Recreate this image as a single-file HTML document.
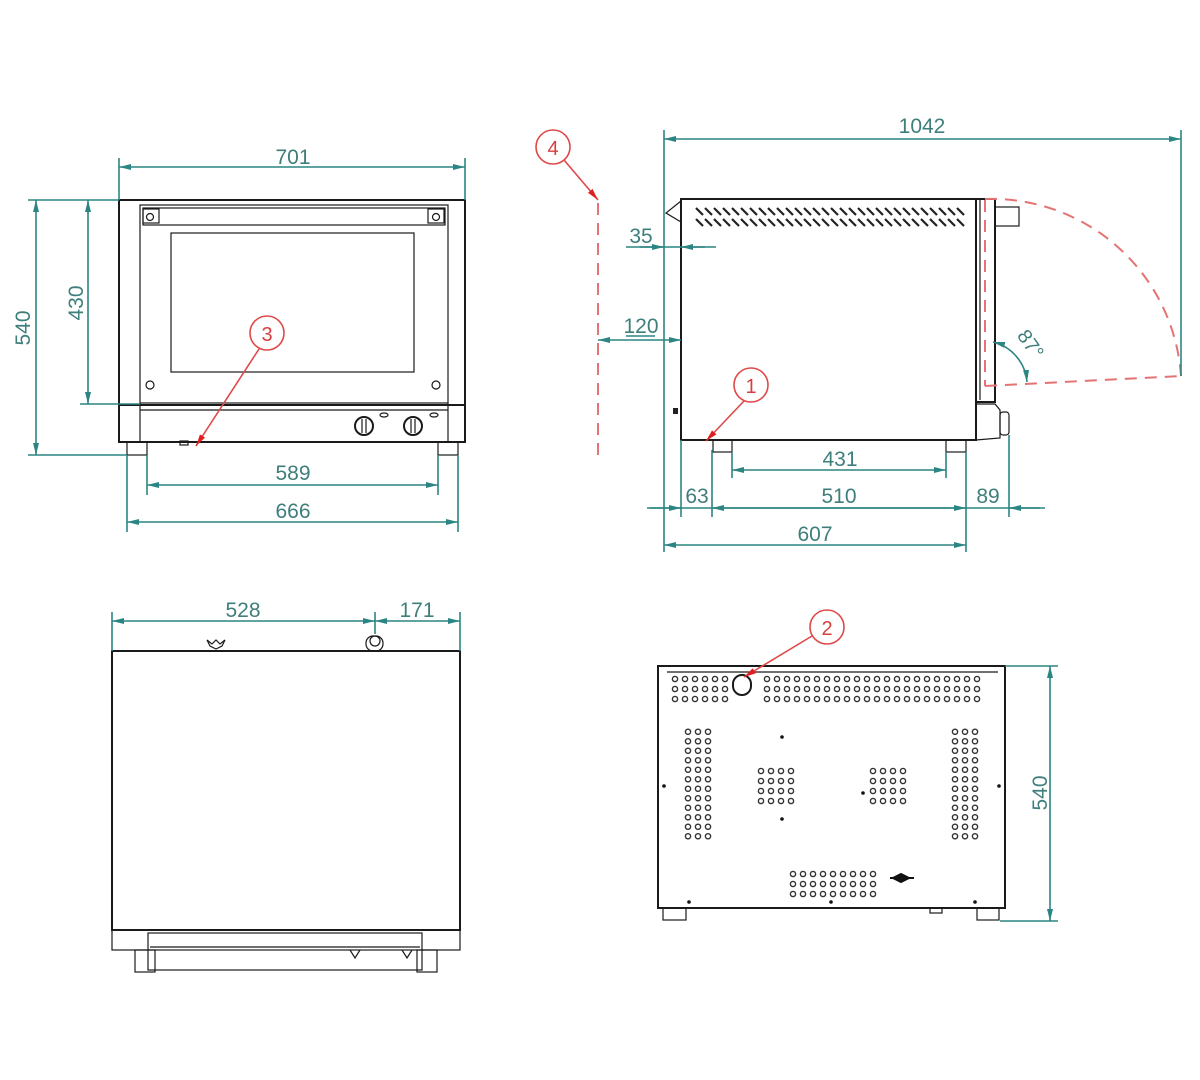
<!DOCTYPE html>
<html><head><meta charset="utf-8"><style>
html,body{margin:0;padding:0;background:#fff}
svg{display:block}
text{font-family:"Liberation Sans",sans-serif;font-size:21px;fill:#3e7e7b}
.t{stroke:#2b8582;stroke-width:1.6;fill:none}
.k{stroke:#1a1a1a;stroke-width:2;fill:none}
.kt{stroke:#1a1a1a;stroke-width:1.2;fill:none}
.r{stroke:#e04848;stroke-width:1.6;fill:none}
.rd{stroke:#e57373;stroke-width:2;fill:none;stroke-dasharray:12 8}
.rt{fill:#d84040;font-size:20px}
</style></head><body>
<svg width="1200" height="1080" viewBox="0 0 1200 1080" xmlns="http://www.w3.org/2000/svg">
<defs>
<marker id="a" viewBox="0 0 12 6" refX="12" refY="3" markerWidth="12" markerHeight="6" orient="auto-start-reverse" markerUnits="userSpaceOnUse"><path d="M0,0 L12,3 L0,6z" fill="#2b8582"/></marker>
<marker id="ar" viewBox="0 0 12 6" refX="12" refY="3" markerWidth="12" markerHeight="7" orient="auto" markerUnits="userSpaceOnUse"><path d="M0,0 L12,3 L0,6z" fill="#e02020"/></marker>
<pattern id="h1" x="670" y="674" width="10" height="10" patternUnits="userSpaceOnUse"><circle cx="5" cy="5" r="2.6" fill="none" stroke="#333" stroke-width="1.4"/></pattern>
<pattern id="h2" x="762" y="674" width="10" height="10" patternUnits="userSpaceOnUse"><circle cx="5" cy="5" r="2.6" fill="none" stroke="#333" stroke-width="1.4"/></pattern>
<pattern id="h3" x="683" y="727" width="10" height="9.5" patternUnits="userSpaceOnUse"><circle cx="5" cy="4.75" r="2.6" fill="none" stroke="#333" stroke-width="1.4"/></pattern>
<pattern id="h4" x="950" y="727" width="10" height="9.5" patternUnits="userSpaceOnUse"><circle cx="5" cy="4.75" r="2.6" fill="none" stroke="#333" stroke-width="1.4"/></pattern>
<pattern id="h5" x="756" y="766" width="10" height="10" patternUnits="userSpaceOnUse"><circle cx="5" cy="5" r="2.6" fill="none" stroke="#333" stroke-width="1.4"/></pattern>
<pattern id="h6" x="868" y="766" width="10" height="10" patternUnits="userSpaceOnUse"><circle cx="5" cy="5" r="2.6" fill="none" stroke="#333" stroke-width="1.4"/></pattern>
<pattern id="h7" x="788" y="869" width="10" height="10" patternUnits="userSpaceOnUse"><circle cx="5" cy="5" r="2.6" fill="none" stroke="#333" stroke-width="1.4"/></pattern>
<pattern id="sl" x="695" y="207" width="9" height="11" patternUnits="userSpaceOnUse"><line x1="1" y1="1" x2="8" y2="8" stroke="#222" stroke-width="2.2"/></pattern>
</defs>

<!-- FRONT VIEW -->
<rect x="119" y="200" width="346" height="242" class="k"/>
<rect x="140" y="205" width="308" height="198" class="kt"/>
<rect x="143" y="208" width="302" height="17" class="kt"/>
<rect x="143" y="209" width="16" height="14" class="kt"/><circle cx="150" cy="217" r="3.5" class="kt"/>
<rect x="428" y="209" width="16" height="14" class="kt"/><circle cx="436" cy="217" r="3.5" class="kt"/>
<rect x="171" y="233" width="243" height="139" class="kt"/>
<circle cx="150" cy="385" r="4" class="kt"/><circle cx="436" cy="385" r="4" class="kt"/>
<line x1="119" y1="405" x2="465" y2="405" class="k"/>
<line x1="140" y1="410" x2="448" y2="410" class="kt"/>
<line x1="140" y1="403" x2="140" y2="442" class="kt"/><line x1="448" y1="403" x2="448" y2="442" class="kt"/>
<circle cx="364" cy="426" r="9" class="k"/><line x1="362" y1="419" x2="362" y2="433" class="kt"/><line x1="366" y1="419" x2="366" y2="433" class="kt"/>
<circle cx="413" cy="426" r="9" class="k"/><line x1="411" y1="419" x2="411" y2="433" class="kt"/><line x1="415" y1="419" x2="415" y2="433" class="kt"/>
<ellipse cx="384" cy="415" rx="4" ry="2" class="kt"/><ellipse cx="434" cy="415" rx="4" ry="2" class="kt"/>
<rect x="127" y="442" width="20" height="13" class="kt"/><rect x="438" y="442" width="20" height="13" class="kt"/>
<rect x="180" y="441" width="8" height="4" class="kt"/>
<!-- front dims -->
<line x1="119" y1="158" x2="119" y2="200" class="t"/><line x1="465" y1="158" x2="465" y2="200" class="t"/>
<line x1="119" y1="167" x2="465" y2="167" class="t" marker-start="url(#a)" marker-end="url(#a)"/>
<text x="293" y="164" text-anchor="middle">701</text>
<line x1="28" y1="200" x2="119" y2="200" class="t"/><line x1="28" y1="455" x2="127" y2="455" class="t"/>
<line x1="80" y1="404" x2="140" y2="404" class="t"/>
<line x1="36" y1="200" x2="36" y2="455" class="t" marker-start="url(#a)" marker-end="url(#a)"/>
<line x1="88" y1="200" x2="88" y2="404" class="t" marker-start="url(#a)" marker-end="url(#a)"/>
<text transform="translate(30,328) rotate(-90)" text-anchor="middle">540</text>
<text transform="translate(83,303) rotate(-90)" text-anchor="middle">430</text>
<line x1="147" y1="455" x2="147" y2="495" class="t"/><line x1="438" y1="455" x2="438" y2="495" class="t"/>
<line x1="127" y1="455" x2="127" y2="532" class="t"/><line x1="458" y1="455" x2="458" y2="532" class="t"/>
<line x1="147" y1="485" x2="438" y2="485" class="t" marker-start="url(#a)" marker-end="url(#a)"/>
<text x="293" y="480" text-anchor="middle">589</text>
<line x1="127" y1="522" x2="458" y2="522" class="t" marker-start="url(#a)" marker-end="url(#a)"/>
<text x="293" y="518" text-anchor="middle">666</text>
<circle cx="267" cy="333" r="17" class="r"/><text x="267" y="341" text-anchor="middle" class="rt">3</text>
<line x1="259" y1="349" x2="196" y2="446" class="r" marker-end="url(#ar)"/>

<!-- SIDE VIEW -->
<rect x="681" y="199" width="295" height="241" class="k"/>
<path d="M681,201 L666,213 L681,222" class="kt"/>
<rect x="695" y="207" width="270" height="22" fill="url(#sl)"/>
<rect x="976" y="199" width="19" height="203" class="k"/>
<line x1="980" y1="200" x2="980" y2="400" class="kt"/>
<rect x="995" y="207" width="24" height="19" class="kt"/>
<path d="M976,404 L995,404 L1000,410 L1000,438 L976,440" class="kt"/>
<rect x="1000" y="412" width="9" height="23" rx="3" class="kt"/>
<rect x="713" y="440" width="19" height="12" class="kt"/><rect x="946" y="440" width="20" height="12" class="kt"/>
<path d="M673,408 l5,0 l0,6 l-5,0z" fill="#222"/>
<!-- door swing -->
<line x1="985" y1="200" x2="985" y2="386" class="rd"/>
<path d="M985,199 A190,190 0 0 1 1181,376" class="rd"/>
<line x1="985" y1="386" x2="1181" y2="376" class="rd"/>
<path d="M993,342 A45,45 0 0 1 1027,382" class="t" marker-start="url(#a)" marker-end="url(#a)"/>
<text transform="translate(1025,348) rotate(55)" text-anchor="middle" style="font-size:20px">87°</text>
<!-- side dims -->
<line x1="664" y1="130" x2="664" y2="552" class="t"/><line x1="1181" y1="130" x2="1181" y2="376" class="t"/>
<line x1="664" y1="139" x2="1181" y2="139" class="t" marker-start="url(#a)" marker-end="url(#a)"/>
<text x="922" y="133" text-anchor="middle">1042</text>
<line x1="626" y1="247" x2="716" y2="247" class="t"/>
<line x1="640" y1="247" x2="664" y2="247" class="t" marker-end="url(#a)"/><line x1="705" y1="247" x2="681" y2="247" class="t" marker-end="url(#a)"/>
<text x="641" y="243" text-anchor="middle">35</text>
<line x1="598" y1="340" x2="681" y2="340" class="t" marker-start="url(#a)" marker-end="url(#a)"/>
<line x1="626" y1="336" x2="655" y2="336" class="t" stroke-width="1"/>
<text x="641" y="333" text-anchor="middle">120</text>
<line x1="681" y1="440" x2="681" y2="517" class="t"/><line x1="712" y1="450" x2="712" y2="517" class="t"/>
<line x1="732" y1="452" x2="732" y2="478" class="t"/><line x1="946" y1="452" x2="946" y2="478" class="t"/>
<line x1="966" y1="452" x2="966" y2="552" class="t"/><line x1="1009" y1="435" x2="1009" y2="517" class="t"/>
<line x1="732" y1="470" x2="946" y2="470" class="t" marker-start="url(#a)" marker-end="url(#a)"/>
<text x="840" y="466" text-anchor="middle">431</text>
<line x1="647" y1="508" x2="1045" y2="508" class="t"/>
<line x1="650" y1="508" x2="681" y2="508" class="t" marker-end="url(#a)"/>
<line x1="712" y1="508" x2="966" y2="508" class="t" marker-start="url(#a)" marker-end="url(#a)"/>
<line x1="1040" y1="508" x2="1009" y2="508" class="t" marker-end="url(#a)"/>
<text x="697" y="503" text-anchor="middle">63</text>
<text x="839" y="503" text-anchor="middle">510</text>
<text x="988" y="503" text-anchor="middle">89</text>
<line x1="664" y1="545" x2="966" y2="545" class="t" marker-start="url(#a)" marker-end="url(#a)"/>
<text x="815" y="541" text-anchor="middle">607</text>
<line x1="598" y1="203" x2="598" y2="458" class="rd"/>
<circle cx="553" cy="147" r="17" class="r"/><text x="553" y="155" text-anchor="middle" class="rt">4</text>
<line x1="564" y1="160" x2="598" y2="200" class="r" marker-end="url(#ar)"/>
<circle cx="751" cy="385" r="17" class="r"/><text x="751" y="393" text-anchor="middle" class="rt">1</text>
<line x1="744" y1="401" x2="706" y2="441" class="r" marker-end="url(#ar)"/>

<!-- TOP VIEW -->
<rect x="112" y="651" width="348" height="279" class="k"/>
<rect x="112" y="930" width="348" height="20" class="kt"/>
<rect x="148" y="933" width="274" height="37" class="kt"/>
<line x1="150" y1="947" x2="420" y2="947" class="kt"/>
<rect x="135" y="950" width="20" height="22" class="kt"/><rect x="417" y="950" width="20" height="22" class="kt"/>
<path d="M350,950 l5,8 l5,-8 M402,950 l5,8 l5,-8" class="kt"/>
<path d="M207,640 l5,4 l4,-4 l4,4 l5,-4 l-3,6 l-6,3 l-6,-3z" class="kt"/>
<rect x="366" y="636" width="17" height="15" rx="7" class="kt"/><circle cx="375" cy="641" r="5" class="kt"/>
<line x1="112" y1="612" x2="112" y2="651" class="t"/><line x1="460" y1="612" x2="460" y2="651" class="t"/>
<line x1="375" y1="612" x2="375" y2="634" class="t"/>
<line x1="112" y1="621" x2="375" y2="621" class="t" marker-start="url(#a)" marker-end="url(#a)"/>
<line x1="375" y1="621" x2="460" y2="621" class="t" marker-start="url(#a)" marker-end="url(#a)"/>
<text x="243" y="617" text-anchor="middle">528</text>
<text x="417" y="617" text-anchor="middle">171</text>

<!-- REAR VIEW -->
<rect x="658" y="666" width="347" height="242" class="k"/>
<line x1="667" y1="672" x2="998" y2="672" class="kt"/>
<rect x="670" y="674" width="60" height="30" fill="url(#h1)"/>
<rect x="762" y="674" width="220" height="30" fill="url(#h2)"/>
<rect x="733" y="675" width="18" height="20" rx="9" class="k" fill="#fff"/>
<rect x="683" y="727" width="30" height="114" fill="url(#h3)"/>
<rect x="950" y="727" width="30" height="114" fill="url(#h4)"/>
<rect x="756" y="766" width="40" height="40" fill="url(#h5)"/>
<rect x="868" y="766" width="40" height="40" fill="url(#h6)"/>
<rect x="788" y="869" width="90" height="30" fill="url(#h7)"/>
<path d="M893,878 l8,-4 l8,4 l-8,4z M890,878 l24,0" stroke="#111" stroke-width="2" fill="#111"/>
<circle cx="782" cy="737" r="1.8" fill="#111"/><circle cx="782" cy="819" r="1.8" fill="#111"/>
<circle cx="863" cy="793" r="1.8" fill="#111"/><circle cx="664" cy="786" r="1.8" fill="#111"/><circle cx="999" cy="786" r="1.8" fill="#111"/>
<circle cx="689" cy="902" r="1.8" fill="#111"/><circle cx="831" cy="902" r="1.8" fill="#111"/><circle cx="975" cy="902" r="1.8" fill="#111"/>
<rect x="663" y="908" width="23" height="12" class="kt"/><rect x="977" y="908" width="22" height="12" class="kt"/>
<rect x="930" y="908" width="12" height="5" class="kt"/>
<line x1="1005" y1="666" x2="1058" y2="666" class="t"/><line x1="1000" y1="921" x2="1058" y2="921" class="t"/>
<line x1="1050" y1="666" x2="1050" y2="921" class="t" marker-start="url(#a)" marker-end="url(#a)"/>
<text transform="translate(1047,793) rotate(-90)" text-anchor="middle">540</text>
<circle cx="827" cy="627" r="17" class="r"/><text x="827" y="635" text-anchor="middle" class="rt">2</text>
<line x1="812" y1="636" x2="744" y2="677" class="r" marker-end="url(#ar)"/>
</svg>
</body></html>
